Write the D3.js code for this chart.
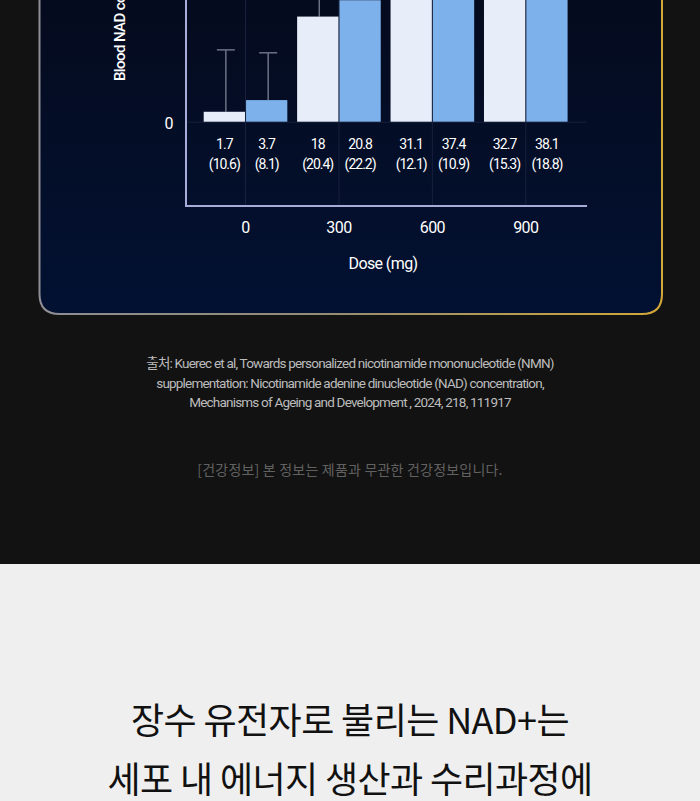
<!DOCTYPE html>
<html><head><meta charset="utf-8">
<script src="https://cdn.jsdelivr.net/npm/d3@7"></script>
<style>
html,body{margin:0;padding:0;background:#121212;overflow:hidden;}
svg{display:block;}
</style></head>
<body>
<script>
const doses = ["0", "300", "600", "900"];
const seriesKeys = ["a", "b"];
const seriesColors = ["#e8eef9", "#7db1eb"];
const meansA = [1.7, 18, 31.1, 32.7];
const sdA = [10.6, 20.4, 12.1, 15.3];
const meansB = [3.7, 20.8, 37.4, 38.1];
const sdB = [8.1, 22.2, 10.9, 18.8];
const yTicks = [0];
const yTitle = "Blood NAD concentration (μM)";
const xTitle = "Dose (mg)";
const citation = [
  "출처:  Kuerec et al, Towards personalized nicotinamide mononucleotide (NMN)",
  "supplementation: Nicotinamide adenine dinucleotide (NAD) concentration,",
  "Mechanisms of Ageing and Development , 2024, 218, 111917"
];
const disclaimer = "[건강정보] 본 정보는 제품과 무관한 건강정보입니다.";
const headline = ["장수 유전자로 불리는 NAD+는", "세포 내 에너지 생산과 수리과정에"];

const W = 700, H = 801;
const svg = d3.select("body").append("svg").attr("width", W).attr("height", H);
const defs = svg.append("defs");

const sg = defs.append("linearGradient").attr("id", "stroke").attr("gradientUnits", "userSpaceOnUse")
  .attr("x1", 39).attr("x2", 662).attr("y1", 0).attr("y2", 0);
sg.append("stop").attr("offset", 0).attr("stop-color", "#8e8e94");
sg.append("stop").attr("offset", 0.45).attr("stop-color", "#938c76");
sg.append("stop").attr("offset", 1).attr("stop-color", "#d2a836");
const fg = defs.append("linearGradient").attr("id", "fill").attr("gradientUnits", "userSpaceOnUse")
  .attr("x1", 0).attr("x2", 0).attr("y1", 0).attr("y2", 314);
fg.append("stop").attr("offset", 0).attr("stop-color", "#050b1e");
fg.append("stop").attr("offset", 1).attr("stop-color", "#021132");

// page backgrounds
svg.append("rect").attr("x", 0).attr("y", 0).attr("width", W).attr("height", 564).attr("fill", "#121212");
svg.append("rect").attr("x", 0).attr("y", 564).attr("width", W).attr("height", H - 564).attr("fill", "#efefef");

// card
const cx0 = 39.5, cx1 = 662, cyb = 314, r = 20;
const cardPath = `M${cx0},-50 L${cx0},${cyb - r} Q${cx0},${cyb} ${cx0 + r},${cyb} L${cx1 - r},${cyb} Q${cx1},${cyb} ${cx1},${cyb - r} L${cx1},-50`;
svg.append("path").attr("d", cardPath + " Z").attr("fill", "url(#fill)");
svg.append("path").attr("d", cardPath).attr("fill", "none").attr("stroke", "url(#stroke)").attr("stroke-width", 2);

// scales
const x0 = d3.scaleBand().domain(doses).range([198.8, 572.5]).paddingInner(0.105).paddingOuter(0.0525);
const x1 = d3.scaleBand().domain(seriesKeys).range([0, x0.bandwidth()]).paddingInner(0.025);
const y = d3.scaleLinear().domain([0, 40]).range([121.7, 121.7 - 40 * 5.84]);

const axisX = 186, axisY = 206, axisEnd = 587;
const g = svg.append("g");

// faint grid: group separators and baseline
g.selectAll(".vg").data(doses).join("line")
  .attr("x1", d => x0(d) + x0.bandwidth() / 2).attr("x2", d => x0(d) + x0.bandwidth() / 2)
  .attr("y1", -50).attr("y2", axisY).attr("stroke", "#18213d").attr("stroke-width", 1);
g.append("line").attr("x1", axisX).attr("x2", axisEnd).attr("y1", y(0) + 0.5).attr("y2", y(0) + 0.5)
  .attr("stroke", "#18213d").attr("stroke-width", 1);

const data = doses.map((d, i) => ({
  dose: d,
  vals: [
    { key: "a", mean: meansA[i], sd: sdA[i], color: seriesColors[0] },
    { key: "b", mean: meansB[i], sd: sdB[i], color: seriesColors[1] }
  ]
}));

const groups = g.selectAll(".grp").data(data).join("g").attr("transform", d => `translate(${x0(d.dose)},0)`);

// error bars
groups.selectAll(".err").data(d => d.vals).join("g").each(function (v) {
  const e = d3.select(this);
  const cx = x1(v.key) + x1.bandwidth() / 2 + 1.5;
  e.append("line").attr("x1", cx).attr("x2", cx).attr("y1", y(v.mean)).attr("y2", y(v.mean + v.sd))
    .attr("stroke", "#6c7286").attr("stroke-width", 1.5);
  e.append("line").attr("x1", cx - 9).attr("x2", cx + 9).attr("y1", y(v.mean + v.sd)).attr("y2", y(v.mean + v.sd))
    .attr("stroke", "#6c7286").attr("stroke-width", 1.5);
});

// bars
groups.selectAll("rect").data(d => d.vals).join("rect")
  .attr("x", v => x1(v.key)).attr("width", x1.bandwidth())
  .attr("y", v => y(v.mean)).attr("height", v => y(0) - y(v.mean))
  .attr("fill", v => v.color);

// value labels
const lblFont = "Roboto, 'Noto Sans', sans-serif";
groups.selectAll(".lbl").data(d => d.vals).join("text")
  .attr("x", v => x1(v.key) + x1.bandwidth() / 2).attr("y", 144)
  .attr("text-anchor", "middle").attr("dominant-baseline", "central")
  .attr("fill", "#ffffff").attr("font-family", lblFont).attr("font-size", 14)
  .attr("letter-spacing", "-0.9px").text(v => v.mean);
groups.selectAll(".sdl").data(d => d.vals).join("text")
  .attr("x", v => x1(v.key) + x1.bandwidth() / 2).attr("y", 164)
  .attr("text-anchor", "middle").attr("dominant-baseline", "central")
  .attr("fill", "#ffffff").attr("font-family", lblFont).attr("font-size", 14)
  .attr("letter-spacing", "-1px").text(v => `(${v.sd})`);

// axes lines
g.append("line").attr("x1", axisX).attr("x2", axisX).attr("y1", -50).attr("y2", axisY)
  .attr("stroke", "#a9acd8").attr("stroke-width", 2);
g.append("line").attr("x1", axisX - 1).attr("x2", axisEnd).attr("y1", axisY).attr("y2", axisY)
  .attr("stroke", "#a9acd8").attr("stroke-width", 2);

// y ticks via d3 axis
const yAxis = d3.axisLeft(y).tickValues(yTicks).tickSize(0).tickPadding(0).tickFormat(d3.format("d"));
const yg = g.append("g").attr("transform", "translate(175,0)").call(yAxis);
yg.select(".domain").remove();
yg.selectAll("text").attr("fill", "#ffffff").attr("font-family", lblFont).attr("font-size", 16)
  .attr("text-anchor", "middle").attr("dx", -6).attr("dy", "0.4em");

// x ticks via d3 axis
const xAxis = d3.axisBottom(x0).tickSize(0).tickPadding(0);
const xg = g.append("g").attr("transform", `translate(0,${axisY})`).call(xAxis);
xg.select(".domain").remove();
xg.selectAll("text").attr("fill", "#ffffff").attr("font-family", lblFont).attr("font-size", 16)
  .attr("letter-spacing", "-0.6px").attr("y", 21).attr("dy", "0").attr("dominant-baseline", "central");

// axis titles
g.append("text").attr("transform", "translate(120,81) rotate(-90)")
  .attr("text-anchor", "start").attr("dominant-baseline", "central")
  .attr("fill", "#ffffff").attr("font-family", lblFont).attr("font-weight", 500)
  .attr("font-size", 15).attr("letter-spacing", "-0.6px").text(yTitle);
g.append("text").attr("x", 383).attr("y", 263)
  .attr("text-anchor", "middle").attr("dominant-baseline", "central")
  .attr("fill", "#ffffff").attr("font-family", lblFont).attr("font-weight", 400)
  .attr("font-size", 16).attr("letter-spacing", "-0.6px").text(xTitle);

// citation
svg.selectAll(".cit").data(citation).join("text")
  .attr("x", 350).attr("y", (d, i) => 363 + i * 19.5)
  .attr("text-anchor", "middle").attr("dominant-baseline", "central")
  .attr("fill", "#bcbcbc").attr("font-family", "Roboto, 'Noto Sans CJK KR', sans-serif")
  .attr("font-size", 13.5).attr("letter-spacing", "-0.8px").text(d => d);

// disclaimer
svg.append("text").attr("x", 350).attr("y", 469)
  .attr("text-anchor", "middle").attr("dominant-baseline", "central")
  .attr("fill", "#616161").attr("font-family", "'Noto Sans CJK KR', sans-serif")
  .attr("font-size", 14).attr("letter-spacing", "0.2px").text(disclaimer);

// headline
svg.selectAll(".hl").data(headline).join("text")
  .attr("x", 350).attr("y", (d, i) => 718 + i * 59)
  .attr("text-anchor", "middle").attr("dominant-baseline", "central")
  .attr("fill", "#111111").attr("font-family", "'Noto Sans CJK KR', sans-serif")
  .attr("font-size", 36).attr("font-weight", 400).attr("letter-spacing", "-0.6px").text(d => d);
</script>
</body></html>
